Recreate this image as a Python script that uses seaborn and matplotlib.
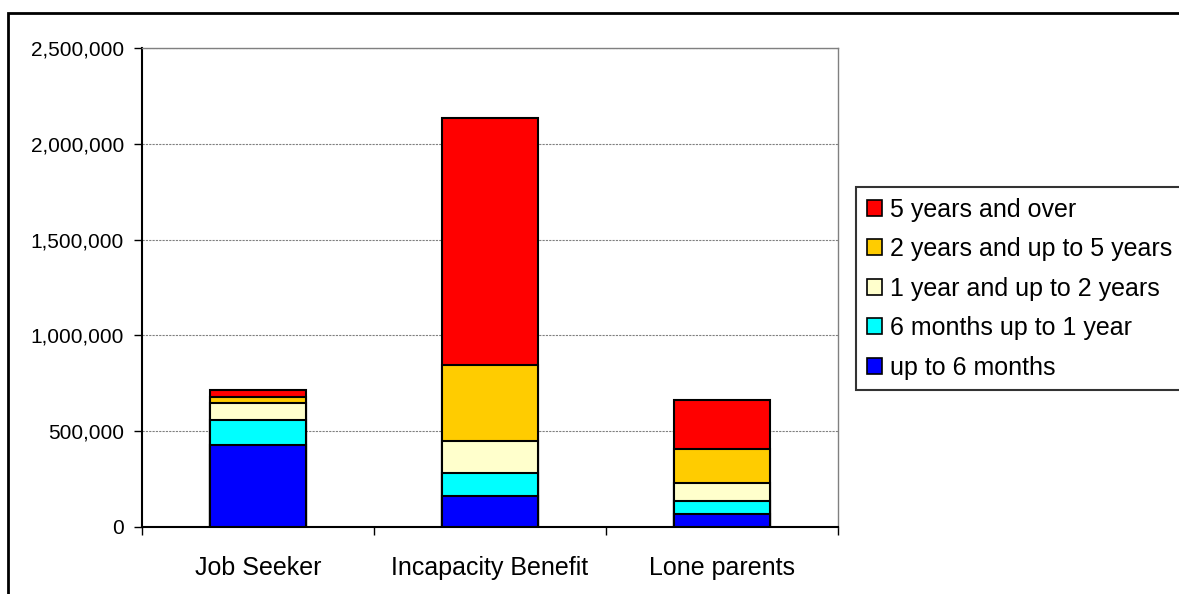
import numpy as np
import pandas as pd
import matplotlib
matplotlib.use("Agg")
import matplotlib.pyplot as plt
import seaborn as sns
from matplotlib.patches import Patch, Rectangle
from matplotlib.ticker import FuncFormatter, FixedLocator

# ---- data (values in claimants) ----
categories = ["Job Seeker", "Incapacity Benefit", "Lone parents"]
up_to_6_months = [428000, 162000, 68000]
six_months_to_1_year = [130000, 120000, 68000]
one_to_2_years = [89000, 167000, 94000]
two_to_5_years = [31000, 397000, 177000]
five_years_and_over = [37000, 1290000, 256000]

series_names = ["up to 6 months", "6 months up to 1 year", "1 year and up to 2 years",
                "2 years and up to 5 years", "5 years and over"]
series_values = [up_to_6_months, six_months_to_1_year, one_to_2_years,
                 two_to_5_years, five_years_and_over]
series_colors = ["#0000FF", "#00FFFF", "#FFFFCC", "#FFCC00", "#FF0000"]
y_ticks = [0, 500000, 1000000, 1500000, 2000000, 2500000]

sns.set_theme(style="white")
plt.rcParams["font.family"] = ["Liberation Sans", "DejaVu Sans"]
plt.rcParams["text.color"] = "black"

W, H = 1179, 594
fig = plt.figure(figsize=(W / 100, H / 100), dpi=100)
ax = fig.add_axes([142 / W, 1 - 527 / H, (838 - 142) / W, (527 - 48) / H])

# cumulative stacks, drawn tallest first so each lower layer overlays
cum = np.cumsum(np.array(series_values), axis=0)
for name, heights, color in reversed(list(zip(series_names, cum, series_colors))):
    df = pd.DataFrame({"category": categories, "value": heights})
    sns.barplot(data=df, x="category", y="value", order=categories, color=color,
                saturation=1, width=0.41, edgecolor="black", linewidth=1.5,
                ax=ax, zorder=3)

ax.set_xlim(-0.5, len(categories) - 0.5)
ax.set_ylim(y_ticks[0], y_ticks[-1])
ax.set_xlabel("")
ax.set_ylabel("")

# y axis
ax.yaxis.set_major_locator(FixedLocator(y_ticks))
ax.yaxis.set_major_formatter(FuncFormatter(lambda v, p: f"{int(v):,}"))
ax.tick_params(axis="y", which="major", length=6, width=1, color="black",
               direction="out", left=True, labelsize=15, pad=7, labelcolor="black")
ax.yaxis.grid(True, color="#808080", linestyle=(0, (2, 1)), linewidth=0.8, zorder=0)
ax.set_axisbelow(True)

# x axis: ticks at category boundaries, labels centred
bounds = np.arange(len(categories) + 1) - 0.5
ax.set_xticks(bounds)
ax.set_xticklabels([""] * len(bounds))
ax.set_xticks(np.arange(len(categories)), minor=True)
ax.set_xticklabels(categories, minor=True)
ax.tick_params(axis="x", which="major", length=6, width=1, color="black",
               direction="out", bottom=True)
ax.tick_params(axis="x", which="minor", length=0, labelsize=18, pad=21, labelcolor="black")

for s in ["left", "bottom"]:
    ax.spines[s].set_color("black")
    ax.spines[s].set_linewidth(1.5)
for s in ["top", "right"]:
    ax.spines[s].set_color("#808080")
    ax.spines[s].set_linewidth(1)

# legend
handles = [Patch(facecolor=c, edgecolor="black", linewidth=1.2, label=n)
           for n, c in zip(series_names, series_colors)]
leg = fig.legend(handles=handles[::-1], loc="upper left",
                 bbox_to_anchor=(856 / W, 1 - 187 / H), bbox_transform=fig.transFigure,
                 fontsize=18, frameon=True, fancybox=False, shadow=False,
                 handlelength=0.6, handleheight=0.6, handletextpad=0.35,
                 labelspacing=0.62, borderpad=0.42, borderaxespad=0,
                 labelcolor="black")
leg.get_frame().set_edgecolor("black")
leg.get_frame().set_linewidth(1.5)

# outer chart border
fig.patches.append(Rectangle((8 / W, -0.1), 1.2, 1.1 - 13 / H, transform=fig.transFigure,
                             fill=False, edgecolor="black", linewidth=2, clip_on=False))

fig.savefig("out.png", dpi=100)
